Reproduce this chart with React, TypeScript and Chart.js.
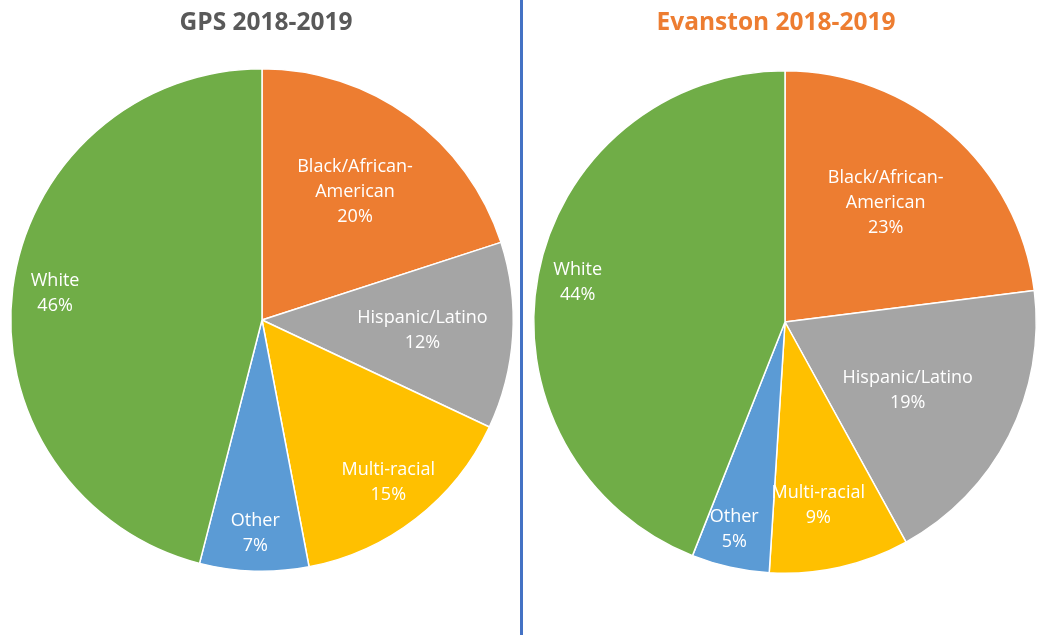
import React, { useEffect, useRef } from "react";
import { Chart, registerables } from "chart.js";

Chart.register(...registerables);

const categories = ["Black/African-American", "Hispanic/Latino", "Multi-racial", "Other", "White"];
const labelLines = [["Black/African-", "American"], ["Hispanic/Latino"], ["Multi-racial"], ["Other"], ["White"]];
const gpsValues = [20, 12, 15, 7, 46];
const evanstonValues = [23, 19, 9, 5, 44];
const gpsTitle = "GPS 2018-2019";
const evanstonTitle = "Evanston 2018-2019";
const sliceColors = ["#ED7D31", "#A5A5A5", "#FFC000", "#5B9BD5", "#70AD47"];

const FONT = "'Open Sans', 'Noto Sans', sans-serif";

const labelPlugin = {
  id: "sliceLabels",
  afterDatasetsDraw(chart: any, _args: any, opts: any) {
    const ctx = chart.ctx;
    const meta = chart.getDatasetMeta(0);
    const data = chart.data.datasets[0].data as number[];
    const total = data.reduce((a, b) => a + b, 0);
    ctx.save();
    ctx.fillStyle = "#FFFFFF";
    ctx.font = `${opts.fontSize}px ${FONT}`;
    ctx.textAlign = "center";
    ctx.textBaseline = "middle";
    meta.data.forEach((arc: any, i: number) => {
      const { x, y, startAngle, endAngle, outerRadius } = arc.getProps(
        ["x", "y", "startAngle", "endAngle", "outerRadius"],
        true
      );
      const mid = (startAngle + endAngle) / 2 + (opts.angleShift?.[i] || 0);
      const r = outerRadius * opts.radius[i];
      const cx = x + Math.cos(mid) * r;
      const cy = y + Math.sin(mid) * r;
      const lines = [...labelLines[i], Math.round((data[i] / total) * 100) + "%"];
      const lh = opts.lineHeight;
      const y0 = cy - ((lines.length - 1) * lh) / 2;
      lines.forEach((t: string, k: number) => ctx.fillText(t, cx, y0 + k * lh));
    });
    ctx.restore();
  },
};

const headlinePlugin = {
  id: "headline",
  afterDraw(chart: any, _args: any, opts: any) {
    const ctx = chart.ctx;
    ctx.save();
    ctx.fillStyle = opts.color;
    ctx.font = `bold ${opts.size}px ${FONT}`;
    ctx.textAlign = "center";
    ctx.textBaseline = "middle";
    ctx.fillText(opts.text, opts.x, opts.y);
    ctx.restore();
  },
};

function PieChart(props: {
  values: number[];
  title: string;
  titleColor: string;
  titleX: number;
  width: number;
  padding: { left: number; right: number; top: number; bottom: number };
  radius: number[];
  angleShift?: number[];
}) {
  const ref = useRef<HTMLCanvasElement>(null);
  useEffect(() => {
    const chart = new Chart(ref.current!, {
      type: "pie",
      data: {
        labels: categories,
        datasets: [
          {
            data: props.values,
            backgroundColor: sliceColors,
            borderColor: "#FFFFFF",
            borderWidth: 1.5,
          },
        ],
      },
      options: {
        animation: false,
        responsive: false,
        layout: { padding: props.padding },
        plugins: {
          legend: { display: false },
          tooltip: { enabled: false },
          title: { display: false },
          sliceLabels: { radius: props.radius, angleShift: props.angleShift, fontSize: 18, lineHeight: 25 },
          headline: { text: props.title, color: props.titleColor, x: props.titleX, y: 23, size: 24.5 },
        } as any,
      },
      plugins: [labelPlugin, headlinePlugin],
    });
    return () => chart.destroy();
  }, []);
  return <canvas ref={ref} width={props.width} height={635} style={{ display: "block" }} />;
}

export default function App() {
  return (
    <div style={{ position: "fixed", left: 0, top: 0, width: 1040, height: 635, background: "#FFFFFF", overflow: "hidden" }}>
      <div style={{ position: "absolute", left: 0, top: 0 }}>
        <PieChart
          values={gpsValues}
          title={gpsTitle}
          titleColor="#595959"
          titleX={266}
          width={520}
          padding={{ left: 10, right: 6, top: 68, bottom: 63 }}
          radius={[0.63, 0.64, 0.82, 0.85, 0.83]}
        />
      </div>
      <div style={{ position: "absolute", left: 520, top: 0, width: 3, height: 635, background: "#4472C4" }} />
      <div style={{ position: "absolute", left: 523, top: 0 }}>
        <PieChart
          values={evanstonValues}
          title={evanstonTitle}
          titleColor="#ED7D31"
          titleX={253}
          width={517}
          padding={{ left: 10, right: 3, top: 70, bottom: 61 }}
          radius={[0.62, 0.56, 0.74, 0.85, 0.84]}
          angleShift={[-0.02, 0.04, 0.04, 0.02, 0]}
        />
      </div>
    </div>
  );
}
